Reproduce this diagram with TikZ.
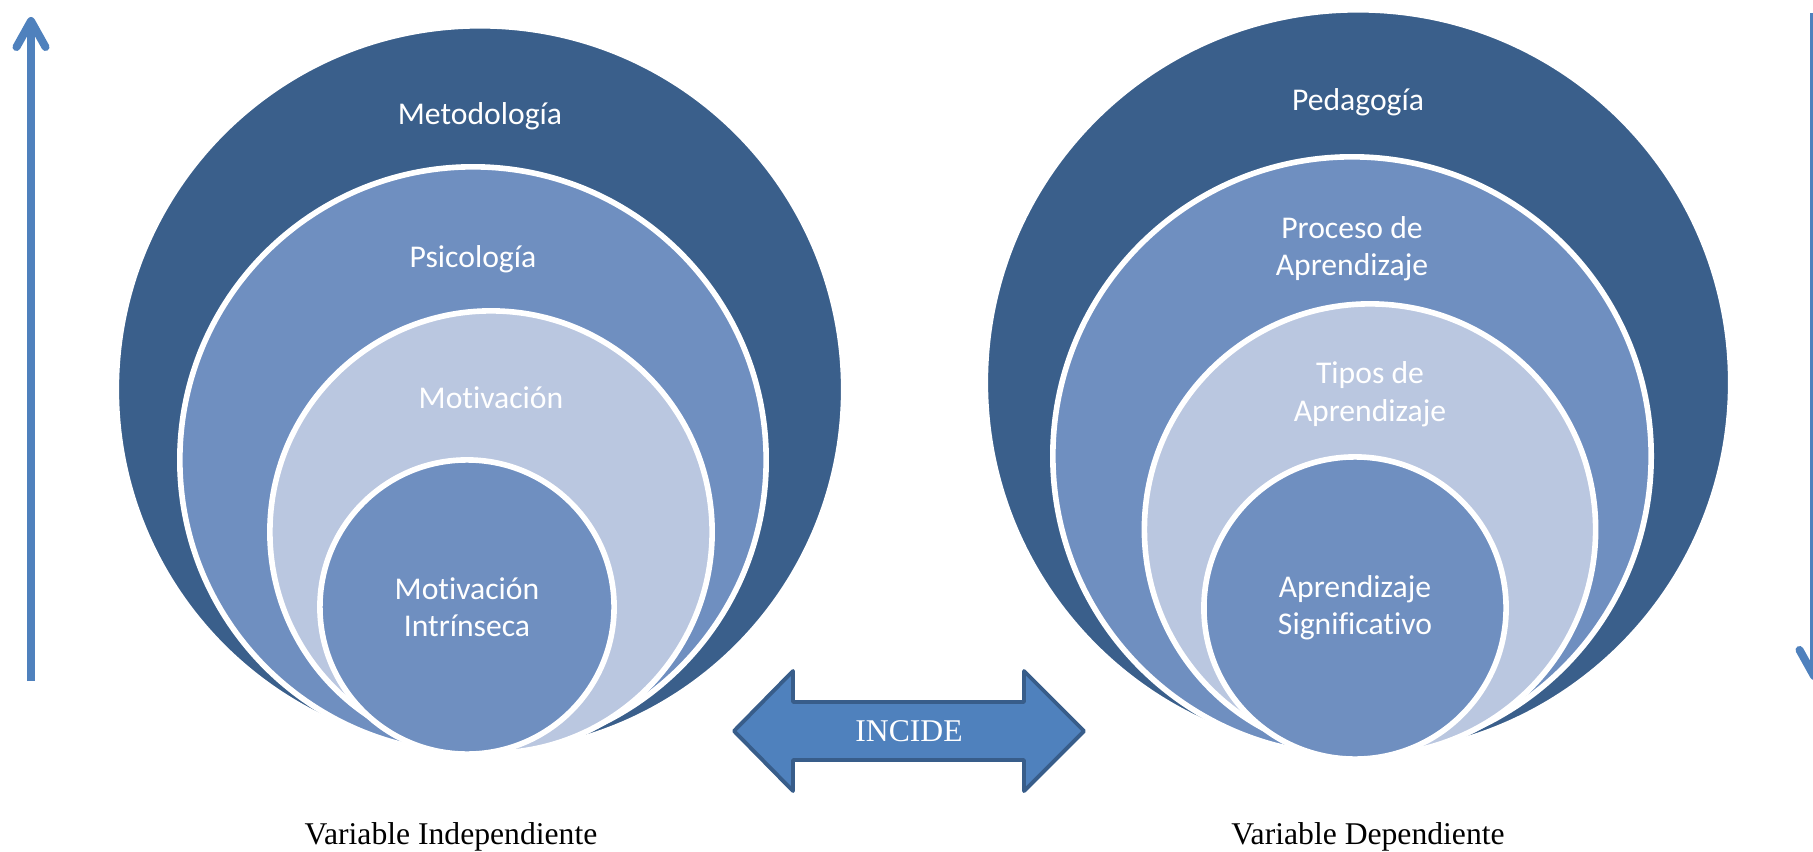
\documentclass[tikz,border=0pt]{standalone}
\usepackage{fontspec}
\setmainfont{Liberation Serif}
\newfontfamily\calibri[Ligatures=NoCommon]{Carlito}
\usepackage{xcolor}
\usetikzlibrary{arrows.meta,positioning}

\definecolor{ringdark}{HTML}{3A5F8B}
\definecolor{ringmid}{HTML}{6F8FC0}
\definecolor{ringlight}{HTML}{BAC7E0}
\definecolor{arrowblue}{HTML}{4F81BD}
\definecolor{arrowedge}{HTML}{385D8A}

\begin{document}
\begin{tikzpicture}[
    x=0.01cm, y=-0.01cm,
    ring/.style={circle, draw=white, line width=1.6pt, inner sep=0pt, text=white, align=center,
                 font=\calibri\fontsize{9}{10.6}\selectfont},
    lbl/.style={text=white, align=center, font=\calibri\fontsize{9}{10.6}\selectfont},
    caption/.style={font=\fontsize{9}{11}\selectfont},
    bigarrow/.style={draw=arrowedge, fill=arrowblue, line width=1.1pt, line join=round},
    vline/.style={draw=arrowblue, line width=0.08cm, -{Straight Barb[length=2.6mm,width=2.9mm,round]}}
]
    \useasboundingbox (0,0) rectangle (1813,852);

    % variable independiente
    \node[ring, fill=ringdark, minimum size=7.27cm] (metod) at (480,389.5) {};
    \node[ring, fill=ringmid, minimum size=5.86cm] (psico) at (473,460) {};
    \node[ring, fill=ringlight, minimum size=4.42cm] (motiv) at (491,532) {};
    \node[ring, fill=ringmid, minimum size=2.94cm] (intrin) at (467,607) {Motivación\\Intrínseca};

    \node[lbl] (metodlbl) at ([yshift=-0.93cm]metod.north) {Metodología};
    \node[lbl] (psicolbl) at ([yshift=-0.95cm]psico.north) {Psicología};
    \node[lbl] (motivlbl) at ([yshift=-0.90cm]motiv.north) {Motivación};

    % variable dependiente
    \node[ring, fill=ringdark, minimum size=7.45cm] (pedag) at (1358,382.5) {};
    \node[ring, fill=ringmid, minimum size=5.98cm] (proceso) at (1352,456) {};
    \node[ring, fill=ringlight, minimum size=4.51cm] (tipos) at (1370,529.5) {};
    \node[ring, fill=ringmid, minimum size=3.02cm] (signif) at (1355,608) {Aprendizaje\\Significativo};

    \node[lbl] (pedaglbl) at ([yshift=-0.95cm]pedag.north) {Pedagogía};
    \node[lbl] (procesolbl) at ([yshift=-0.95cm]proceso.north) {Proceso de\\Aprendizaje};
    \node[lbl] (tiposlbl) at ([yshift=-0.93cm]tipos.north) {Tipos de\\Aprendizaje};

    % flecha doble
    \draw[bigarrow] (734,731) -- (793,671) -- (793,702) -- (1024,702) -- (1024,671)
        -- (1084,731) -- (1024,791) -- (1024,760) -- (793,760) -- (793,791) -- cycle;
    \node[text=white, font=\fontsize{9}{11}\selectfont] (incide) at (909,731) {INCIDE};

    \node[caption] (indep) at (451,837) {Variable Independiente};
    \node[caption] (dep) at (1368,837) {Variable Dependiente};

    % flechas laterales
    \coordinate (upbase) at (31,681);
    \coordinate (uptip) at (31,17);
    \coordinate (downbase) at (1814,13);
    \coordinate (downtip) at (1814,680);
    \draw[vline] (upbase) -- (uptip);
    \draw[vline] (downbase) -- (downtip);
\end{tikzpicture}
\end{document}
